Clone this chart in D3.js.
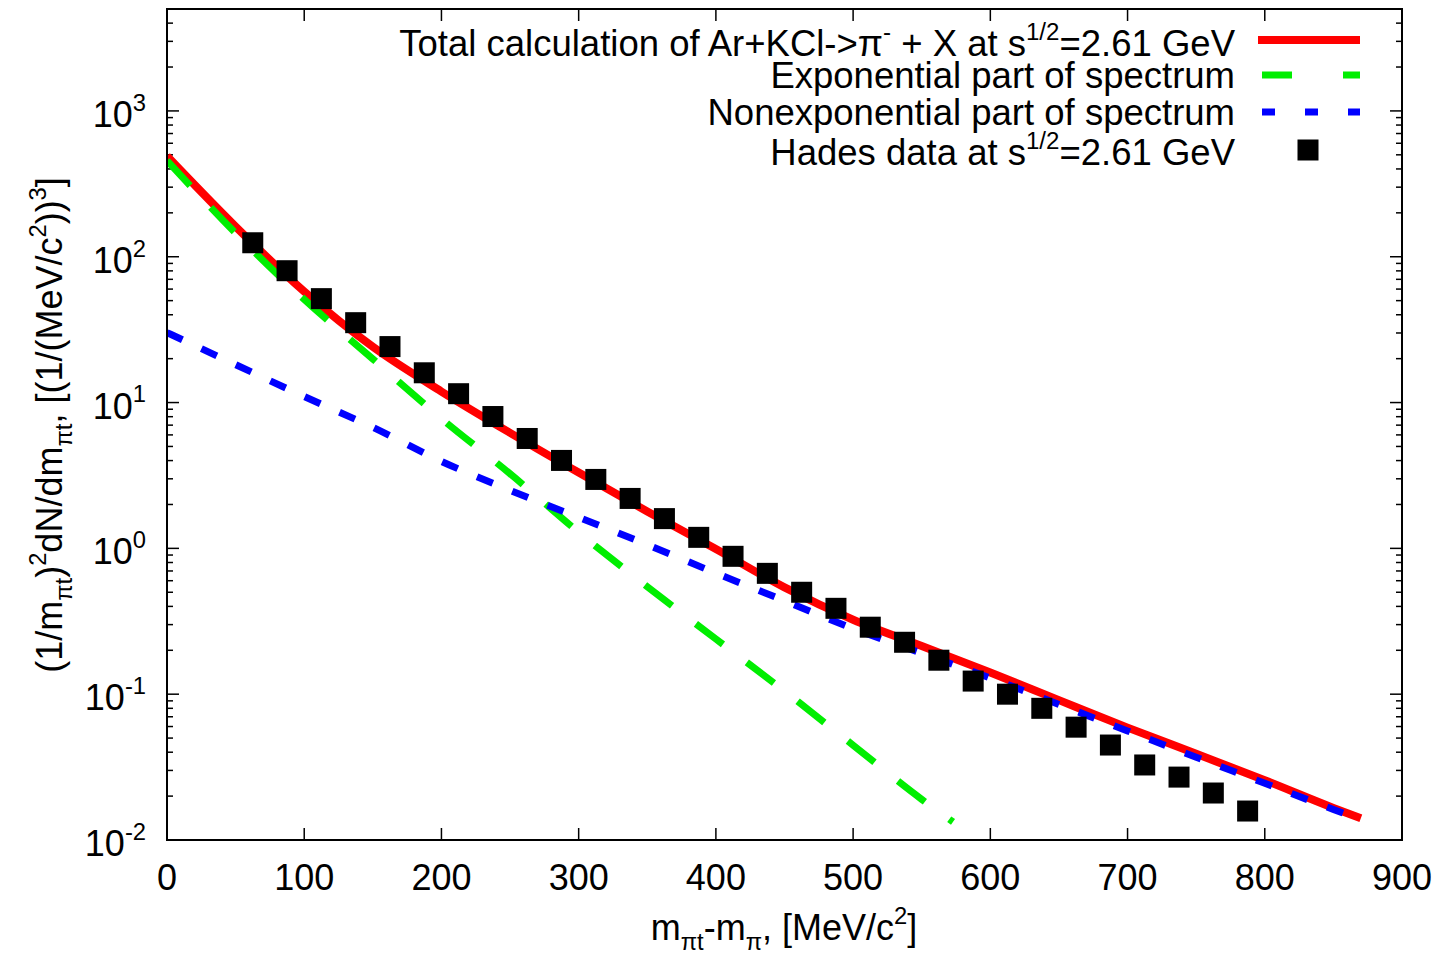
<!DOCTYPE html>
<html>
<head>
<meta charset="utf-8">
<script src="https://cdn.jsdelivr.net/npm/d3@7"></script>
<style>
  body { margin: 0; background: #fff; }
  text { font-family: "Liberation Sans", Arial, sans-serif; fill: #000; }
</style>
</head>
<body>
<div id="chart"></div>
<script>
// Hades data points (m_t - m, MeV/c^2) and spectrum values
const hadesX = [62.5, 87.5, 112.5, 137.5, 162.5, 187.5, 212.5, 237.5, 262.5, 287.5,
                312.5, 337.5, 362.5, 387.5, 412.5, 437.5, 462.5, 487.5, 512.5, 537.5,
                562.5, 587.5, 612.5, 637.5, 662.5, 687.5, 712.5, 737.5, 762.5, 787.5];
const hadesY = [124.7, 80.2, 51.6, 35.3, 24.2, 16.0, 11.5, 8.02, 5.67, 4.01,
                2.97, 2.20, 1.60, 1.19, 0.882, 0.674, 0.500, 0.388, 0.288, 0.227,
                0.171, 0.123, 0.100, 0.080, 0.0594, 0.0448, 0.0327, 0.0270, 0.0210, 0.0158];

// calculated curves
const curveX = [0, 50, 100, 150, 200, 250, 300, 350, 400, 450, 500, 550, 600, 650, 700, 750, 800, 850, 870];
const totalY = [490, 161, 57.7, 24.1, 11.9, 6.2, 3.31, 1.79, 0.99, 0.54, 0.324, 0.214, 0.141, 0.091, 0.059, 0.039, 0.0257, 0.0166, 0.0141];
const nonexpY = [30.2, 18.2, 11.0, 6.76, 3.95, 2.5, 1.63, 1.06, 0.676, 0.437, 0.282, 0.191, 0.129, 0.085, 0.056, 0.037, 0.0245, 0.0162, 0.0138];
const expX = [0, 50, 100, 150, 200, 250, 300, 350, 400, 450, 500, 550, 572.8];
const expY = [457, 145, 51, 19.9, 7.76, 3.25, 1.29, 0.546, 0.239, 0.105, 0.0447, 0.019, 0.0133];

const xTicks = [0, 100, 200, 300, 400, 500, 600, 700, 800, 900];
const yExps = [-2, -1, 0, 1, 2, 3];

const legendLabels = [
  [{t: 'Total calculation of Ar+KCl->π'}, {t: '-', s: 'sup'}, {t: ' + X at s'}, {t: '1/2', s: 'sup'}, {t: '=2.61 GeV'}],
  [{t: 'Exponential part of spectrum'}],
  [{t: 'Nonexponential part of spectrum'}],
  [{t: 'Hades data at s'}, {t: '1/2', s: 'sup'}, {t: '=2.61 GeV'}]
];

const W = 1437, H = 957;
const pL = 167, pR = 1402, pT = 9, pB = 840;
const fs = 36;

const svg = d3.select('#chart').append('svg')
    .attr('width', W)
    .attr('height', H);

const x = d3.scaleLinear().domain([0, 900]).range([pL, pR]);
const y = d3.scaleLog().domain([0.01, 5000]).range([pB, pT]);

// text with super/subscripts via tspans
function rich(sel, parts, size) {
  let off = 0;
  parts.forEach(p => {
    let target = p.s == 'sup' ? -0.45 * size : (p.s == 'sub' ? 0.28 * size : 0);
    sel.append('tspan')
        .text(p.t)
        .attr('dy', target - off)
        .attr('font-size', p.s ? size * 0.66 : size);
    off = target;
  });
}

svg.append('clipPath').attr('id', 'plotclip')
  .append('rect').attr('x', pL).attr('y', pT).attr('width', pR - pL).attr('height', pB - pT);

// ticks (inward, mirrored)
const tickG = svg.append('g').attr('stroke', '#000').attr('stroke-width', 1.5);
xTicks.forEach(v => {
  tickG.append('line').attr('x1', x(v)).attr('x2', x(v)).attr('y1', pB).attr('y2', pB - 12);
  tickG.append('line').attr('x1', x(v)).attr('x2', x(v)).attr('y1', pT).attr('y2', pT + 12);
});
for (let e = -2; e <= 3; e++) {
  for (let m = 1; m <= 9; m++) {
    let v = m * Math.pow(10, e);
    if (v > 5000) continue;
    let len = m == 1 ? 12 : 6;
    tickG.append('line').attr('x1', pL).attr('x2', pL + len).attr('y1', y(v)).attr('y2', y(v));
    tickG.append('line').attr('x1', pR).attr('x2', pR - len).attr('y1', y(v)).attr('y2', y(v));
  }
}

// x tick labels
svg.selectAll('.xlab')
    .data(xTicks)
    .enter()
    .append('text')
    .attr('class', 'xlab')
    .attr('x', d => x(d))
    .attr('y', 890)
    .attr('text-anchor', 'middle')
    .attr('font-size', fs)
    .text(d => d);

// y tick labels 10^n
yExps.forEach(e => {
  let t = svg.append('text')
      .attr('x', 146)
      .attr('y', y(Math.pow(10, e)) + 16)
      .attr('text-anchor', 'end');
  rich(t, [{t: '10'}, {t: String(e), s: 'sup'}], fs);
});

const plot = svg.append('g').attr('clip-path', 'url(#plotclip)');

const line = d3.line()
    .x(d => x(d[0]))
    .y(d => y(d[1]))
    .curve(d3.curveMonotoneX);

plot.append('path')
    .datum(curveX.map((v, i) => [v, totalY[i]]))
    .attr('d', line)
    .attr('fill', 'none')
    .attr('stroke', '#ff0000')
    .attr('stroke-width', 8);

plot.append('path')
    .datum(expX.map((v, i) => [v, expY[i]]))
    .attr('d', line)
    .attr('fill', 'none')
    .attr('stroke', '#00ee00')
    .attr('stroke-width', 7)
    .attr('stroke-dasharray', '34,30');

plot.append('path')
    .datum(curveX.map((v, i) => [v, nonexpY[i]]))
    .attr('d', line)
    .attr('fill', 'none')
    .attr('stroke', '#0000ff')
    .attr('stroke-width', 7)
    .attr('stroke-dasharray', '17,21');

const sq = 21;
plot.selectAll('.pt')
    .data(hadesX.map((v, i) => [v, hadesY[i]]))
    .enter()
    .append('rect')
    .attr('class', 'pt')
    .attr('x', d => x(d[0]) - sq / 2)
    .attr('y', d => y(d[1]) - sq / 2)
    .attr('width', sq)
    .attr('height', sq)
    .attr('fill', '#000');

// border
svg.append('rect')
    .attr('x', pL).attr('y', pT)
    .attr('width', pR - pL).attr('height', pB - pT)
    .attr('fill', 'none')
    .attr('stroke', '#000')
    .attr('stroke-width', 2);

// legend
const legY = [40, 75, 112, 150];
const legBase = [56, 88, 125, 165];
legendLabels.forEach((parts, i) => {
  let t = svg.append('text')
      .attr('x', 1235)
      .attr('y', legBase[i])
      .attr('text-anchor', 'end');
  rich(t, parts, 36.5);
});
svg.append('line').attr('x1', 1258).attr('x2', 1360).attr('y1', legY[0]).attr('y2', legY[0])
    .attr('stroke', '#ff0000').attr('stroke-width', 8);
svg.append('line').attr('x1', 1262).attr('x2', 1360).attr('y1', legY[1]).attr('y2', legY[1])
    .attr('stroke', '#00ee00').attr('stroke-width', 7).attr('stroke-dasharray', '30,51');
svg.append('line').attr('x1', 1262).attr('x2', 1360).attr('y1', legY[2]).attr('y2', legY[2])
    .attr('stroke', '#0000ff').attr('stroke-width', 7).attr('stroke-dasharray', '13,30');
svg.append('rect').attr('x', 1308 - sq / 2).attr('y', legY[3] - sq / 2)
    .attr('width', sq).attr('height', sq).attr('fill', '#000');

// axis titles
let xt = svg.append('text')
    .attr('x', 784)
    .attr('y', 940)
    .attr('text-anchor', 'middle');
rich(xt, [{t: 'm'}, {t: 'πt', s: 'sub'}, {t: '-m'}, {t: 'π', s: 'sub'}, {t: ', [MeV/c'}, {t: '2', s: 'sup'}, {t: ']'}], fs);

let yt = svg.append('text')
    .attr('transform', 'translate(62,425) rotate(-90)')
    .attr('text-anchor', 'middle');
rich(yt, [{t: '(1/m'}, {t: 'πt', s: 'sub'}, {t: ')'}, {t: '2', s: 'sup'}, {t: 'dN/dm'}, {t: 'πt', s: 'sub'},
          {t: ', [(1/(MeV/c'}, {t: '2', s: 'sup'}, {t: '))'}, {t: '3', s: 'sup'}, {t: ']'}], fs);
</script>
</body>
</html>
